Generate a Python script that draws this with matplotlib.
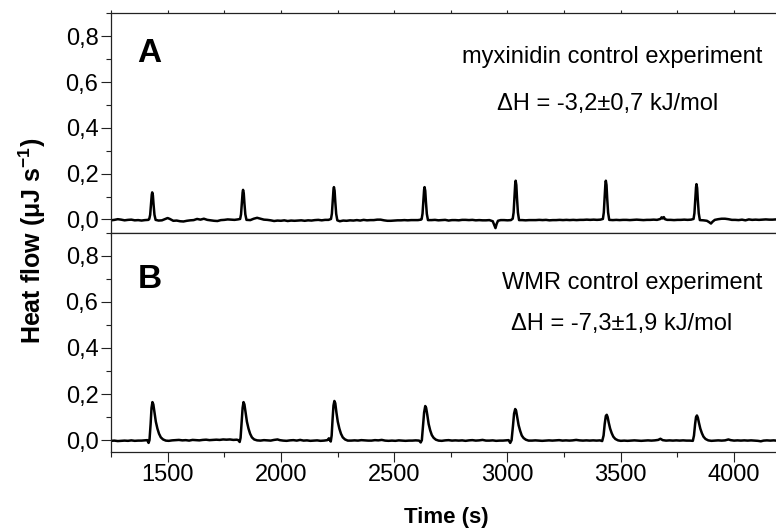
import matplotlib
matplotlib.use('Agg')
import matplotlib.pyplot as plt
from matplotlib.ticker import MultipleLocator, FuncFormatter

plt.rcParams['font.family'] = ['Liberation Sans', 'DejaVu Sans']
plt.rcParams['mathtext.fontset'] = 'custom'
plt.rcParams['mathtext.rm'] = 'Liberation Sans'
plt.rcParams['mathtext.bf'] = 'Liberation Sans:bold'

# panel A: myxinidin control (time in s, heat flow in uJ/s)
time_a = [1250, 1265, 1280, 1295, 1310, 1325, 1340, 1355, 1370, 1385, 1400, 1415,
          1419, 1423, 1427, 1430, 1432, 1435, 1438, 1442, 1447,
          1460, 1475, 1490, 1500, 1510, 1525, 1540, 1555, 1570, 1585, 1600, 1615, 1630,
          1645, 1660, 1675, 1690, 1705, 1720, 1735, 1750, 1765, 1780, 1795, 1810,
          1820, 1824, 1828, 1831, 1833, 1836, 1839, 1843, 1848,
          1865, 1880, 1895, 1910, 1925, 1940, 1955, 1970, 1985, 2000, 2015, 2030, 2045,
          2060, 2075, 2090, 2105, 2120, 2135, 2150, 2165, 2180, 2195, 2210,
          2221, 2225, 2229, 2232, 2234, 2237, 2240, 2244, 2249,
          2260, 2275, 2290, 2305, 2320, 2335, 2350, 2365, 2380, 2395, 2410, 2425, 2440,
          2455, 2470, 2485, 2500, 2515, 2530, 2545, 2560, 2575, 2590, 2605, 2618,
          2621, 2625, 2629, 2632, 2634, 2637, 2640, 2644, 2649,
          2665, 2680, 2695, 2710, 2725, 2740, 2755, 2770, 2785, 2800, 2815, 2830, 2845,
          2860, 2875, 2890, 2905, 2920, 2935, 2942, 2947, 2952, 2958, 2970, 2985, 3000, 3015,
          3023, 3027, 3031, 3034, 3036, 3039, 3042, 3046, 3051,
          3065, 3080, 3095, 3110, 3125, 3140, 3155, 3170, 3185, 3200, 3215, 3230, 3245,
          3260, 3275, 3290, 3305, 3320, 3335, 3350, 3365, 3380, 3395, 3410,
          3421, 3425, 3429, 3432, 3434, 3437, 3440, 3444, 3449,
          3465, 3480, 3495, 3510, 3525, 3540, 3555, 3570, 3585, 3600, 3615, 3630, 3645,
          3660, 3675, 3680, 3685, 3690, 3695, 3705, 3720, 3735, 3750, 3765, 3780, 3795, 3810,
          3821, 3825, 3829, 3832, 3834, 3837, 3840, 3844, 3849,
          3865, 3880, 3890, 3898, 3905, 3915, 3930, 3945, 3960, 3975, 3990, 4005, 4020,
          4035, 4050, 4065, 4080, 4095, 4110, 4125, 4140, 4155, 4170, 4185]
flow_a = [-0.004, -0.002, 0.001, -0.001, -0.004, -0.002, -0.001, -0.004, -0.003, -0.005, -0.003, -0.002,
          0.002, 0.02, 0.07, 0.108, 0.118, 0.105, 0.065, 0.02, -0.002,
          -0.005, -0.004, 0.002, 0.006, 0.002, -0.006, -0.005, -0.008, -0.009, -0.006, -0.004, -0.003, 0.002,
          -0.001, 0.003, -0.002, -0.004, -0.006, -0.007, -0.003, -0.002, 0.0, -0.001, -0.002, 0.0,
          0.002, 0.022, 0.08, 0.118, 0.129, 0.115, 0.07, 0.022, -0.002,
          -0.003, 0.003, 0.007, 0.003, -0.001, -0.002, -0.004, -0.007, -0.005, -0.006, -0.004, -0.007, -0.005,
          -0.006, -0.005, -0.004, -0.006, -0.004, -0.005, -0.003, -0.002, -0.004, -0.002, -0.002,
          0.002, 0.025, 0.085, 0.13, 0.141, 0.125, 0.077, 0.024, -0.004,
          -0.008, -0.005, -0.006, -0.004, -0.005, -0.003, -0.005, -0.002, -0.004, -0.003, -0.003, -0.001, -0.001,
          -0.004, -0.006, -0.006, -0.005, -0.004, -0.004, -0.003, -0.004, -0.003, -0.003, -0.003, -0.001,
          0.001, 0.025, 0.085, 0.13, 0.141, 0.125, 0.077, 0.024, -0.003,
          -0.003, -0.002, -0.004, -0.003, -0.002, -0.005, -0.003, -0.003, -0.004, -0.002, -0.002, -0.003, -0.002,
          -0.004, -0.003, -0.004, -0.004, -0.003, -0.008, -0.025, -0.038, -0.02, -0.006, -0.003, -0.003, -0.004, -0.003,
          0.003, 0.03, 0.1, 0.155, 0.169, 0.15, 0.092, 0.03, -0.003,
          -0.003, -0.004, -0.003, -0.003, -0.003, -0.002, -0.003, -0.002, -0.004, -0.003, -0.003, -0.002, -0.003,
          -0.002, -0.003, -0.002, -0.003, -0.002, -0.002, -0.001, -0.002, -0.001, -0.002, -0.001,
          0.002, 0.03, 0.1, 0.155, 0.169, 0.15, 0.092, 0.03, -0.002,
          -0.003, -0.002, -0.003, -0.002, -0.002, -0.003, -0.002, -0.001, -0.002, -0.003, -0.002, -0.002, -0.001,
          -0.002, 0.002, 0.009, 0.004, 0.01, 0.001, -0.002, -0.002, -0.003, -0.002, -0.002, -0.001, -0.002, -0.001,
          0.002, 0.027, 0.09, 0.14, 0.154, 0.137, 0.084, 0.027, -0.003,
          -0.004, -0.006, -0.012, -0.018, -0.01, -0.002, 0.001, 0.003, 0.003, 0.001, -0.002, -0.002, -0.003,
          -0.001, -0.004, 0.0, -0.002, -0.001, -0.002, -0.001, 0.0, -0.001, -0.001, 0.0]

# panel B: WMR control
time_b = [1250, 1265, 1280, 1295, 1310, 1325, 1340, 1355, 1370, 1385, 1400, 1410,
          1416, 1420, 1425, 1429, 1433, 1437, 1442, 1448, 1455, 1462, 1470, 1480, 1492,
          1505, 1520, 1535, 1550, 1565, 1580, 1595, 1610, 1625, 1640, 1655, 1670, 1685,
          1700, 1715, 1730, 1745, 1760, 1775, 1790, 1805, 1812,
          1818, 1822, 1827, 1831, 1835, 1839, 1844, 1850, 1857, 1864, 1872, 1882, 1895,
          1910, 1925, 1940, 1955, 1970, 1985, 1995, 2010, 2025, 2040, 2055, 2070, 2085,
          2100, 2115, 2130, 2145, 2160, 2175, 2190, 2205, 2212, 2216,
          2220, 2224, 2228, 2232, 2236, 2240, 2245, 2251, 2258, 2265, 2273, 2283, 2295,
          2310, 2325, 2340, 2355, 2370, 2385, 2400, 2415, 2430, 2445, 2460, 2475, 2490,
          2505, 2520, 2535, 2550, 2565, 2580, 2595, 2610,
          2617, 2622, 2627, 2632, 2637, 2641, 2646, 2652, 2659, 2666, 2674, 2684, 2696,
          2710, 2725, 2740, 2755, 2770, 2785, 2800, 2815, 2830, 2845, 2860, 2875, 2890,
          2905, 2920, 2935, 2950, 2965, 2980, 2995, 3005,
          3012, 3018, 3024, 3029, 3034, 3038, 3043, 3049, 3056, 3063, 3071, 3081, 3093,
          3108, 3123, 3138, 3153, 3168, 3183, 3198, 3213, 3228, 3243, 3258, 3273, 3288,
          3303, 3318, 3333, 3348, 3363, 3378, 3393, 3408,
          3418, 3424, 3429, 3434, 3438, 3442, 3447, 3453, 3460, 3467, 3476, 3488, 3500,
          3515, 3530, 3545, 3560, 3575, 3590, 3605, 3620, 3635, 3650, 3665, 3675, 3685,
          3700, 3715, 3730, 3745, 3760, 3775, 3790, 3805,
          3818, 3823, 3828, 3832, 3836, 3840, 3845, 3851, 3858, 3865, 3874, 3886, 3900,
          3915, 3930, 3945, 3960, 3975, 3985, 4000, 4015, 4030, 4045, 4060, 4075, 4090,
          4105, 4118, 4130, 4145, 4160, 4175, 4185]
flow_b = [-0.003, -0.002, -0.004, -0.003, -0.002, -0.003, -0.001, -0.003, -0.002, -0.002, -0.001, 0.0,
          -0.012, 0.0, 0.07, 0.14, 0.165, 0.155, 0.12, 0.08, 0.05, 0.028, 0.012, 0.003, -0.002,
          -0.003, -0.001, 0.0, 0.001, -0.001, 0.0, -0.002, 0.001, 0.0, -0.001, 0.001, 0.002, 0.0,
          0.001, 0.002, 0.001, 0.003, 0.002, 0.003, 0.001, 0.002, 0.0,
          -0.008, 0.01, 0.08, 0.14, 0.165, 0.155, 0.12, 0.08, 0.05, 0.028, 0.012, 0.003, -0.001,
          -0.002, 0.0, -0.001, -0.002, 0.001, 0.003, 0.0, -0.002, -0.003, -0.001, 0.0, -0.002, 0.001,
          -0.002, -0.001, -0.003, -0.002, -0.001, -0.003, -0.002, 0.0, 0.008, 0.0,
          -0.006, 0.02, 0.09, 0.15, 0.17, 0.16, 0.12, 0.08, 0.05, 0.028, 0.012, 0.003, -0.002,
          -0.002, -0.001, -0.002, 0.0, -0.001, -0.002, -0.002, 0.0, -0.001, 0.001, -0.002, -0.003, -0.002,
          -0.003, -0.001, -0.002, -0.003, -0.002, -0.002, -0.001, -0.002,
          -0.01, 0.0, 0.06, 0.12, 0.148, 0.14, 0.11, 0.07, 0.042, 0.022, 0.01, 0.002, -0.002,
          -0.003, -0.001, 0.0, -0.002, -0.001, -0.002, -0.001, -0.003, -0.001, 0.0, -0.002, -0.001, 0.001,
          -0.002, -0.002, -0.001, -0.003, -0.002, -0.002, -0.001, 0.0,
          -0.012, 0.0, 0.06, 0.115, 0.135, 0.128, 0.1, 0.065, 0.04, 0.02, 0.009, 0.002, -0.002,
          -0.002, -0.001, -0.002, -0.003, -0.002, -0.001, -0.002, -0.001, 0.0, -0.002, -0.001, -0.002, -0.001,
          0.001, -0.001, -0.002, -0.001, -0.002, -0.001, -0.002, -0.001,
          -0.004, 0.02, 0.07, 0.105, 0.11, 0.1, 0.075, 0.05, 0.03, 0.015, 0.005, -0.001, -0.003,
          -0.002, -0.003, -0.002, -0.001, -0.002, -0.003, -0.002, -0.001, -0.002, -0.001, 0.001, 0.006, 0.0,
          -0.002, -0.001, -0.002, -0.001, -0.002, -0.001, -0.002, -0.002,
          -0.003, 0.02, 0.07, 0.1, 0.107, 0.098, 0.075, 0.05, 0.03, 0.015, 0.005, -0.001, -0.003,
          -0.002, -0.001, -0.002, -0.001, 0.003, 0.0, -0.002, -0.001, -0.002, -0.001, -0.002, -0.001, -0.002,
          -0.003, -0.005, -0.002, -0.001, -0.002, -0.001, -0.002]

panels = [
    (time_a, flow_a, 'A', 'myxinidin control experiment', '\u0394H = -3,2\u00b10,7 kJ/mol', (-0.058, 0.9)),
    (time_b, flow_b, 'B', 'WMR control experiment', '\u0394H = -7,3\u00b11,9 kJ/mol', (-0.05, 0.9)),
]
# text positions in axes fraction: name x, name y, dH x, dH y, letter y
note_pos = [(0.979, 0.773, 0.747, 0.559, 0.78), (0.979, 0.742, 0.768, 0.556, 0.749)]

fig = plt.figure(figsize=(7.76, 5.32), dpi=100)
ax_top = fig.add_axes([0.143, 0.5626, 0.857, 0.4124])
ax_bot = fig.add_axes([0.143, 0.151, 0.857, 0.4116], sharex=ax_top)

comma = FuncFormatter(lambda v, p: f'{v:.1f}'.replace('.', ','))

for ax, (t, f, letter, name, dh, ylim), (nx, ny, dx, dy, ly) in zip([ax_top, ax_bot], panels, note_pos):
    ax.plot(t, f, color='black', lw=1.8)
    ax.set_xlim(1250, 4185)
    ax.set_ylim(*ylim)
    ax.yaxis.set_major_locator(MultipleLocator(0.2))
    ax.yaxis.set_minor_locator(MultipleLocator(0.1))
    ax.yaxis.set_major_formatter(comma)
    ax.xaxis.set_major_locator(MultipleLocator(500))
    ax.xaxis.set_minor_locator(MultipleLocator(250))
    ax.spines['right'].set_visible(False)
    for s in ax.spines.values():
        s.set_linewidth(0.9)
        s.set_color('#222222')
    ax.tick_params(which='major', direction='out', length=7, width=0.8, labelsize=17,
                   color='#222222', pad=2)
    ax.tick_params(which='minor', direction='out', length=3.5, width=0.8, color='#222222')
    ax.text(0.04, ly, letter, transform=ax.transAxes,
            fontsize=24, fontweight='bold', va='baseline', ha='left')
    ax.text(nx, ny, name, transform=ax.transAxes, fontsize=17, ha='right', va='baseline')
    ax.text(dx, dy, dh, transform=ax.transAxes, fontsize=17, ha='center', va='baseline')

ax_top.tick_params(axis='x', which='both', labelbottom=False, bottom=True, length=4)
ax_top.tick_params(axis='x', which='both', top=True, length=2)

fig.text(0.575, 0.027, 'Time (s)', fontsize=16, fontweight='bold', ha='center', va='center')
fig.text(0.042, 0.548, r'Heat flow ($\mathbf{\mu}$J s$^{\mathbf{-1}}$)', fontsize=18,
         fontweight='bold', rotation=90, ha='center', va='center')

fig.savefig('out.png', dpi=100)
